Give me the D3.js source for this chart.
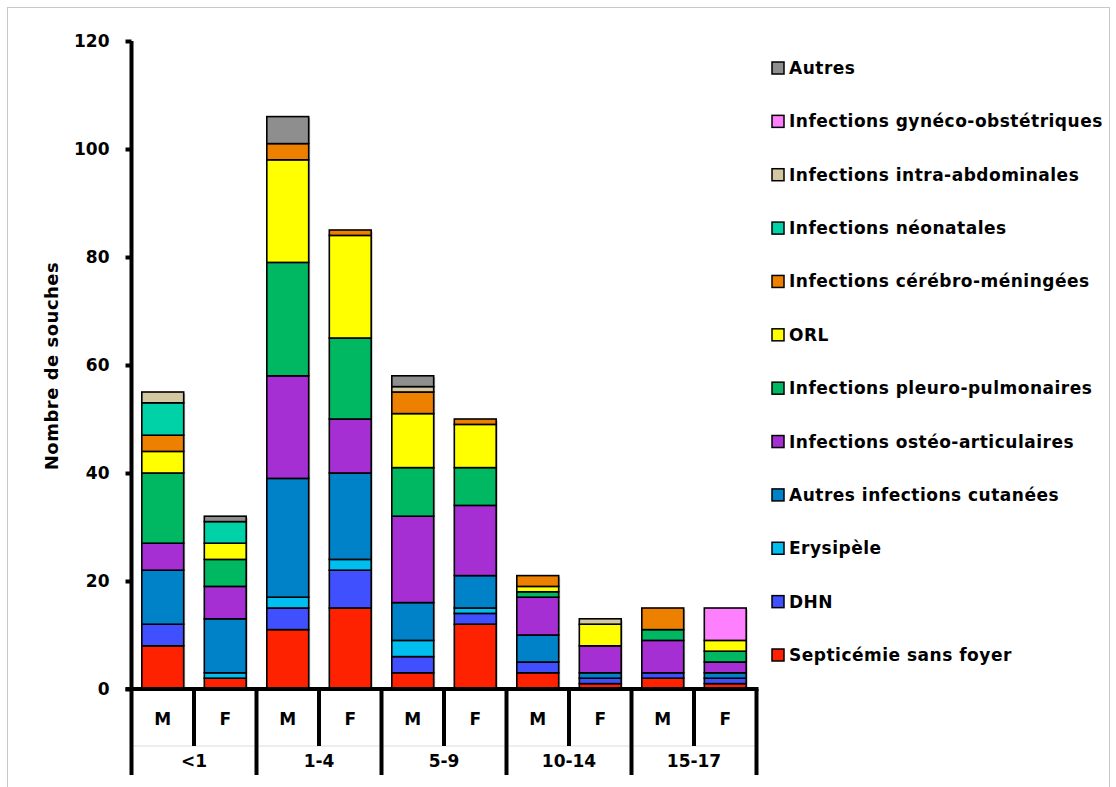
<!DOCTYPE html>
<html><head><meta charset="utf-8">
<script src="https://cdn.jsdelivr.net/npm/d3@7"></script>
<style>body{margin:0;background:#fff}svg{display:block}text{font-family:"DejaVu Sans",sans-serif;font-weight:bold;fill:#000}</style>
</head><body>
<svg id="c" width="1116" height="787"></svg>
<script>
const ageGroups = ["<1","1-4","5-9","10-14","15-17"];
const sexes = ["M","F"];
const seriesNames = ["Septicémie sans foyer","DHN","Erysipèle","Autres infections cutanées","Infections ostéo-articulaires","Infections pleuro-pulmonaires","ORL","Infections cérébro-méningées","Infections néonatales","Infections intra-abdominales","Infections gynéco-obstétriques","Autres"];
const seriesColors = ["#FF2200","#4050FF","#00BFF0","#0082C8","#A52FD2","#00B862","#FFFF00","#EE8000","#00D2A8","#D2C9A3","#FF80FF","#8E8E8E"];
// values per bar: <1 M, <1 F, 1-4 M, 1-4 F, 5-9 M, 5-9 F, 10-14 M, 10-14 F, 15-17 M, 15-17 F
const septicemie   = [8, 2, 11, 15, 3, 12, 3, 1, 2, 1];
const dhn          = [4, 0, 4, 7, 3, 2, 2, 1, 1, 1];
const erysipele    = [0, 1, 2, 2, 3, 1, 0, 0, 0, 0];
const cutanees     = [10, 10, 22, 16, 7, 6, 5, 1, 0, 1];
const osteo        = [5, 6, 19, 10, 16, 13, 7, 5, 6, 2];
const pleuro       = [13, 5, 21, 15, 9, 7, 1, 0, 2, 2];
const orl          = [4, 3, 19, 19, 10, 8, 1, 4, 0, 2];
const cerebro      = [3, 0, 3, 1, 4, 1, 2, 0, 4, 0];
const neonatales   = [6, 4, 0, 0, 0, 0, 0, 0, 0, 0];
const intraAbdo    = [2, 0, 0, 0, 1, 0, 0, 1, 0, 0];
const gyneco       = [0, 0, 0, 0, 0, 0, 0, 0, 0, 6];
const autres       = [0, 1, 5, 0, 2, 0, 0, 0, 0, 0];
const yTicks = [0,20,40,60,80,100,120];

const seriesValues = [septicemie,dhn,erysipele,cutanees,osteo,pleuro,orl,cerebro,neonatales,intraAbdo,gyneco,autres];
const bars = [];
ageGroups.forEach(a => sexes.forEach(s => bars.push({age:a, sex:s, key:a+"|"+s})));
const table = bars.map((b,i) => {const r={key:b.key}; seriesNames.forEach((n,j)=>r[n]=seriesValues[j][i]); return r;});

const svg = d3.select("#c");
svg.append("rect").attr("x",7.5).attr("y",7.5).attr("width",1102).attr("height",820).attr("fill","none").attr("stroke","#c8c8c8");

const x0 = 131.5, x1 = 756.5, yBase = 689, yTop = 41;
const x = d3.scaleBand().domain(bars.map(b=>b.key)).range([x0,x1]).paddingInner(0.33).paddingOuter(0.165);
const y = d3.scaleLinear().domain([0,120]).range([yBase,yTop]);
const stack = d3.stack().keys(seriesNames)(table);

const g = svg.append("g");
stack.forEach((layer,j)=>{
  g.selectAll(null).data(layer.filter(d=>d[1]>d[0])).enter().append("rect")
   .attr("x",d=>x(d.data.key)+1.5).attr("y",d=>y(d[1])+1.5)
   .attr("width",x.bandwidth()).attr("height",d=>y(d[0])-y(d[1]))
   .attr("fill","#bbb");
});
stack.forEach((layer,j)=>{
  g.selectAll(null).data(layer.filter(d=>d[1]>d[0])).enter().append("rect")
   .attr("x",d=>x(d.data.key)).attr("y",d=>y(d[1]))
   .attr("width",x.bandwidth()).attr("height",d=>y(d[0])-y(d[1]))
   .attr("fill",seriesColors[j]).attr("stroke","#000").attr("stroke-width",1.6);
});

const ya = svg.append("g").attr("transform",`translate(${x0},0)`)
  .call(d3.axisLeft(y).tickValues(yTicks).tickSize(6).tickPadding(16));
ya.select(".domain").attr("stroke","#000").attr("stroke-width",4).attr("d",`M0,${yTop}V${yBase}`);
ya.selectAll(".tick line").attr("stroke","#000").attr("stroke-width",4);
ya.selectAll(".tick text").attr("font-size",17).attr("font-family","DejaVu Sans").attr("font-weight","bold");

svg.append("text").attr("transform",`translate(58,366) rotate(-90)`).attr("text-anchor","middle")
  .attr("font-size",18).attr("letter-spacing",0.5).text("Nombre de souches");

svg.append("line").attr("x1",x0-6).attr("x2",x1+2).attr("y1",yBase).attr("y2",yBase).attr("stroke","#000").attr("stroke-width",4);
svg.append("line").attr("x1",x0).attr("x2",x1).attr("y1",746).attr("y2",746).attr("stroke","#ddd").attr("stroke-width",1);
const step = x.step();
bars.forEach((b,i)=>{
  const left = x0 + i*step;
  const isGroup = i%2===0;
  svg.append("line").attr("x1",left).attr("x2",left).attr("y1",yBase).attr("y2",isGroup?775:746).attr("stroke","#000").attr("stroke-width",4);
  svg.append("text").attr("x",left+step/2).attr("y",725).attr("text-anchor","middle").attr("font-size",17).text(b.sex);
});
svg.append("line").attr("x1",x1).attr("x2",x1).attr("y1",yBase).attr("y2",775).attr("stroke","#000").attr("stroke-width",4);
ageGroups.forEach((a,i)=>{
  svg.append("text").attr("x",x0+(2*i+1)*step).attr("y",767).attr("text-anchor","middle").attr("font-size",17).text(a);
});

const legendOrder = seriesNames.map((n,i)=>i).reverse();
const ly = d3.scalePoint().domain(legendOrder).range([68,655]);
legendOrder.forEach(i=>{
  const cy = ly(i);
  svg.append("rect").attr("x",772).attr("y",cy-6).attr("width",12).attr("height",12)
    .attr("fill",seriesColors[i]).attr("stroke","#000").attr("stroke-width",1.5);
  svg.append("text").attr("x",789).attr("y",cy+6).attr("font-size",17).attr("letter-spacing",0.5).text(seriesNames[i]);
});
</script>
</body></html>
